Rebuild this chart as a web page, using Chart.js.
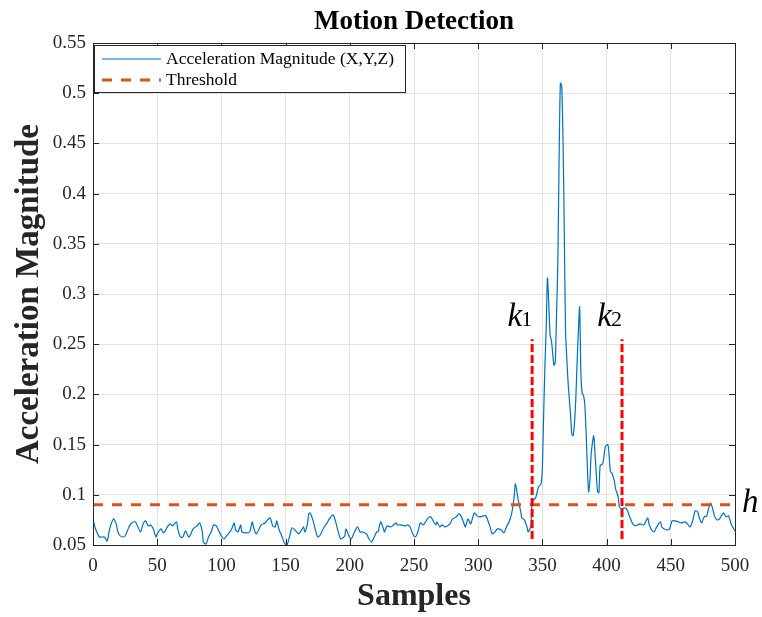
<!DOCTYPE html>
<html>
<head>
<meta charset="utf-8">
<script src="https://cdn.jsdelivr.net/npm/chart.js@4.4.1/dist/chart.umd.min.js"></script>
<style>
  html, body { margin: 0; padding: 0; background: #fff; }
  #wrap { width: 762px; height: 617px; }
</style>
</head>
<body>
<div id="wrap"><canvas id="chart"></canvas></div>
<script>
// samples (x) and the acceleration magnitude at each (y)
const samples = [
  0, 2, 5, 9, 11, 13, 16, 18, 20, 23, 25, 28, 30, 33, 35, 37, 39, 41, 43, 45, 47, 49,
  50, 53, 55, 58, 60, 62, 65, 66, 68, 70, 72, 74, 75, 78, 81, 83, 85, 86, 88, 90, 92,
  94, 96, 98, 100, 102, 104, 106, 108, 110, 111, 113, 115, 116, 119, 122, 124, 125,
  127, 129, 131, 134, 136, 138, 140, 142, 143, 145, 147, 149, 151, 153, 155, 158,
  160, 162, 164, 165, 167, 168, 169, 171, 173, 175, 177, 180, 182, 184, 187, 189,
  191, 193, 196, 197, 199, 201, 203, 206, 208, 210, 213, 215, 217, 219, 221, 222,
  224, 226, 227, 229, 232, 234, 236, 237, 240, 243, 245, 247, 249, 251, 253, 255,
  257, 258, 261, 263, 265, 267, 268, 270, 272, 274, 276, 278, 280, 283, 285, 287,
  289, 290, 292, 294, 295, 297, 299, 301, 304, 306, 309, 311, 313, 315, 318, 320,
  322, 324, 326, 328, 329, 331, 333, 334, 336, 338, 339, 341, 342, 344, 345, 347,
  349, 350, 351, 352, 353, 354, 356, 357, 358, 359, 360, 361, 362, 363, 364, 365,
  366, 367, 368, 369, 370, 371, 372, 373, 374, 375, 376, 377, 378, 379, 380, 381,
  382, 383, 384, 385, 386, 387, 388, 390, 391, 392, 393, 394, 395, 397, 398, 399,
  401, 402, 403, 404, 406, 407, 409, 410, 412, 414, 416, 418, 420, 422, 424, 426,
  429, 432, 433, 435, 437, 439, 442, 443, 445, 447, 449, 451, 453, 456, 458, 461,
  463, 465, 467, 469, 471, 472, 474, 476, 478, 479, 481, 483, 484, 486, 488, 491,
  493, 495, 497, 499, 500
];
const accel = [
  0.075, 0.066, 0.058, 0.058, 0.054, 0.066, 0.076, 0.071, 0.061, 0.058, 0.059, 0.068,
  0.072, 0.073, 0.068, 0.063, 0.071, 0.074, 0.069, 0.070, 0.066, 0.058,
  0.061, 0.066, 0.062, 0.068, 0.071, 0.069, 0.073, 0.066, 0.058, 0.058, 0.064, 0.059,
  0.058, 0.066, 0.069, 0.072, 0.064, 0.053, 0.051, 0.058, 0.063,
  0.070, 0.069, 0.064, 0.059, 0.056, 0.059, 0.062, 0.066, 0.072, 0.065, 0.063, 0.070,
  0.063, 0.062, 0.063, 0.073, 0.068,
  0.061, 0.065, 0.070, 0.072, 0.075, 0.077, 0.069, 0.068, 0.074, 0.065, 0.059, 0.052,
  0.050, 0.058, 0.067, 0.064,
  0.061, 0.064, 0.068, 0.063, 0.071, 0.081, 0.082, 0.076, 0.066, 0.058, 0.060, 0.068,
  0.071, 0.076, 0.080, 0.073,
  0.063, 0.056, 0.059, 0.066, 0.060, 0.056, 0.061, 0.068, 0.063, 0.063, 0.061, 0.056,
  0.053, 0.058, 0.063, 0.063,
  0.073, 0.067, 0.063, 0.069, 0.068, 0.070, 0.072, 0.070, 0.070, 0.069, 0.070, 0.068,
  0.061, 0.058, 0.063, 0.072,
  0.070, 0.071, 0.077, 0.078, 0.074, 0.070, 0.073, 0.068, 0.070, 0.068, 0.069, 0.071,
  0.076, 0.078, 0.081, 0.078,
  0.071, 0.068, 0.076, 0.071, 0.074, 0.082, 0.079, 0.078, 0.079, 0.079, 0.069, 0.061,
  0.063, 0.066, 0.065, 0.062,
  0.068, 0.073, 0.081, 0.098, 0.111, 0.096, 0.084, 0.077, 0.075, 0.068, 0.063, 0.069,
  0.093, 0.096, 0.098, 0.108,
  0.111, 0.128, 0.181, 0.230, 0.268, 0.316, 0.259, 0.254, 0.241, 0.229, 0.232, 0.280,
  0.330, 0.434, 0.510, 0.508,
  0.458, 0.368, 0.264, 0.236, 0.212, 0.195, 0.178, 0.160, 0.159, 0.172, 0.195, 0.231,
  0.262, 0.287, 0.220, 0.201,
  0.199, 0.190, 0.164, 0.128, 0.103, 0.114, 0.141, 0.159, 0.140, 0.120, 0.103, 0.102,
  0.129, 0.131, 0.139, 0.148,
  0.150, 0.138, 0.123, 0.122, 0.114, 0.106, 0.098, 0.088, 0.086, 0.087, 0.085, 0.078,
  0.072, 0.069, 0.070, 0.071,
  0.070, 0.077, 0.071, 0.065, 0.063, 0.068, 0.073, 0.068, 0.066, 0.065, 0.066, 0.074,
  0.074, 0.073, 0.072, 0.073,
  0.071, 0.068, 0.074, 0.084, 0.083, 0.078, 0.072, 0.078, 0.079, 0.084, 0.092, 0.084,
  0.079, 0.075, 0.076, 0.082,
  0.078, 0.079, 0.071, 0.066, 0.064
];

const threshold = 0.09;
const kSamples = [342, 412];       // k1, k2 boundaries
const kRange = [0.056, 0.255];     // vertical extent of the boundary lines

const xTicks = [0, 50, 100, 150, 200, 250, 300, 350, 400, 450, 500];
const yTicks = [0.05, 0.1, 0.15, 0.2, 0.25, 0.3, 0.35, 0.4, 0.45, 0.5, 0.55];
const yTickLabels = ['0.05', '0.1', '0.15', '0.2', '0.25', '0.3', '0.35', '0.4', '0.45', '0.5', '0.55'];

const serif = "'Liberation Serif', 'Times New Roman', serif";
const axisColor = '#262626';
const blue = '#0072BD';
const orange = '#D95319';

const signal = samples.map((s, i) => ({ x: s, y: accel[i] }));

// box, inward ticks, legend, title and the k/h annotations
const overlay = {
  id: 'overlay',
  afterDatasetsDraw(chart) {
    const { ctx, chartArea: a, scales: { x, y } } = chart;
    ctx.save();
    ctx.strokeStyle = axisColor;
    ctx.lineWidth = 1;
    ctx.setLineDash([]);
    ctx.strokeRect(Math.round(a.left) + 0.5, Math.round(a.top) + 0.5,
      Math.round(a.width), Math.round(a.height));

    ctx.beginPath();
    xTicks.forEach(v => {
      const px = Math.round(x.getPixelForValue(v)) + 0.5;
      ctx.moveTo(px, a.bottom); ctx.lineTo(px, a.bottom - 6);
      ctx.moveTo(px, a.top); ctx.lineTo(px, a.top + 6);
    });
    yTicks.forEach(v => {
      const py = Math.round(y.getPixelForValue(v)) + 0.5;
      ctx.moveTo(a.left, py); ctx.lineTo(a.left + 6, py);
      ctx.moveTo(a.right, py); ctx.lineTo(a.right - 6, py);
    });
    ctx.stroke();

    // title
    ctx.fillStyle = '#000';
    ctx.font = 'bold 27px ' + serif;
    ctx.textAlign = 'center';
    ctx.textBaseline = 'alphabetic';
    ctx.fillText('Motion Detection', (a.left + a.right) / 2, 29);

    // legend
    const lx = a.left + 1, ly = a.top + 2, lw = 311, lh = 47;
    ctx.fillStyle = '#fff';
    ctx.fillRect(lx, ly, lw, lh);
    ctx.strokeStyle = axisColor;
    ctx.strokeRect(lx + 0.5, ly + 0.5, lw, lh);
    ctx.lineWidth = 1.2;
    ctx.strokeStyle = blue;
    ctx.beginPath(); ctx.moveTo(lx + 8, ly + 14); ctx.lineTo(lx + 67, ly + 14); ctx.stroke();
    ctx.lineWidth = 3;
    ctx.strokeStyle = orange;
    ctx.setLineDash([10, 9]);
    ctx.beginPath(); ctx.moveTo(lx + 8, ly + 35); ctx.lineTo(lx + 67, ly + 35); ctx.stroke();
    ctx.setLineDash([]);
    ctx.fillStyle = '#000';
    ctx.font = '17.5px ' + serif;
    ctx.textAlign = 'left';
    ctx.textBaseline = 'middle';
    ctx.fillText('Acceleration Magnitude (X,Y,Z)', lx + 72, ly + 14);
    ctx.fillText('Threshold', lx + 72, ly + 35);

    // k1, k2 labels
    ctx.textBaseline = 'alphabetic';
    const kTop = y.getPixelForValue(kRange[1]);
    kSamples.forEach((s, i) => {
      const px = x.getPixelForValue(s);
      ctx.font = 'italic 33px ' + serif;
      ctx.textAlign = 'right';
      ctx.fillText('k', px - 10, kTop - 13);
      ctx.font = '22px ' + serif;
      ctx.textAlign = 'left';
      ctx.fillText(String(i + 1), px - 11, kTop - 13);
    });

    // h label at the threshold level
    ctx.font = 'italic 33px ' + serif;
    ctx.textAlign = 'left';
    ctx.fillText('h', a.right + 7, y.getPixelForValue(threshold) + 7);
    ctx.restore();
  }
};

new Chart(document.getElementById('chart'), {
  type: 'line',
  data: {
    datasets: [
      {
        label: 'k1',
        data: [{ x: kSamples[0], y: kRange[0] }, { x: kSamples[0], y: kRange[1] }],
        borderColor: '#FF0000', borderWidth: 3, borderDash: [8, 3],
        pointRadius: 0, order: 0
      },
      {
        label: 'k2',
        data: [{ x: kSamples[1], y: kRange[0] }, { x: kSamples[1], y: kRange[1] }],
        borderColor: '#FF0000', borderWidth: 3, borderDash: [8, 3],
        pointRadius: 0, order: 0
      },
      {
        label: 'Threshold',
        data: [{ x: 0, y: threshold }, { x: 500, y: threshold }],
        borderColor: orange, borderWidth: 3, borderDash: [10, 9],
        pointRadius: 0, order: 1
      },
      {
        label: 'Acceleration Magnitude (X,Y,Z)',
        data: signal,
        borderColor: blue, borderWidth: 1.2,
        pointRadius: 0, tension: 0.25, order: 2
      }
    ]
  },
  options: {
    responsive: true,
    maintainAspectRatio: false,
    animation: false,
    layout: { padding: { top: 43, right: 27, left: 0, bottom: 0 } },
    plugins: {
      legend: { display: false },
      title: { display: false },
      tooltip: { enabled: false }
    },
    scales: {
      x: {
        type: 'linear',
        min: 0, max: 500,
        afterFit: s => { s.height = 72; },
        afterBuildTicks: s => { s.ticks = xTicks.map(v => ({ value: v })); },
        grid: { color: '#e3e3e3', drawTicks: false },
        border: { display: false },
        ticks: {
          color: axisColor, padding: 10,
          font: { family: serif, size: 19 },
          maxRotation: 0
        },
        title: {
          display: true, text: 'Samples', color: axisColor,
          font: { family: serif, size: 32, weight: 'bold' },
          padding: { top: 0, bottom: 1 }
        }
      },
      y: {
        min: 0.05, max: 0.55,
        afterFit: s => { s.width = 93; },
        afterBuildTicks: s => { s.ticks = yTicks.map(v => ({ value: v })); },
        grid: { color: '#e3e3e3', drawTicks: false },
        border: { display: false },
        ticks: {
          color: axisColor, padding: 7,
          font: { family: serif, size: 19 },
          callback: (v, i) => yTickLabels[i]
        },
        title: {
          display: true, text: 'Acceleration Magnitude', color: axisColor,
          font: { family: serif, size: 33, weight: 'bold' },
          padding: { top: 10, bottom: 0 }
        }
      }
    }
  },
  plugins: [overlay]
});
</script>
</body>
</html>
